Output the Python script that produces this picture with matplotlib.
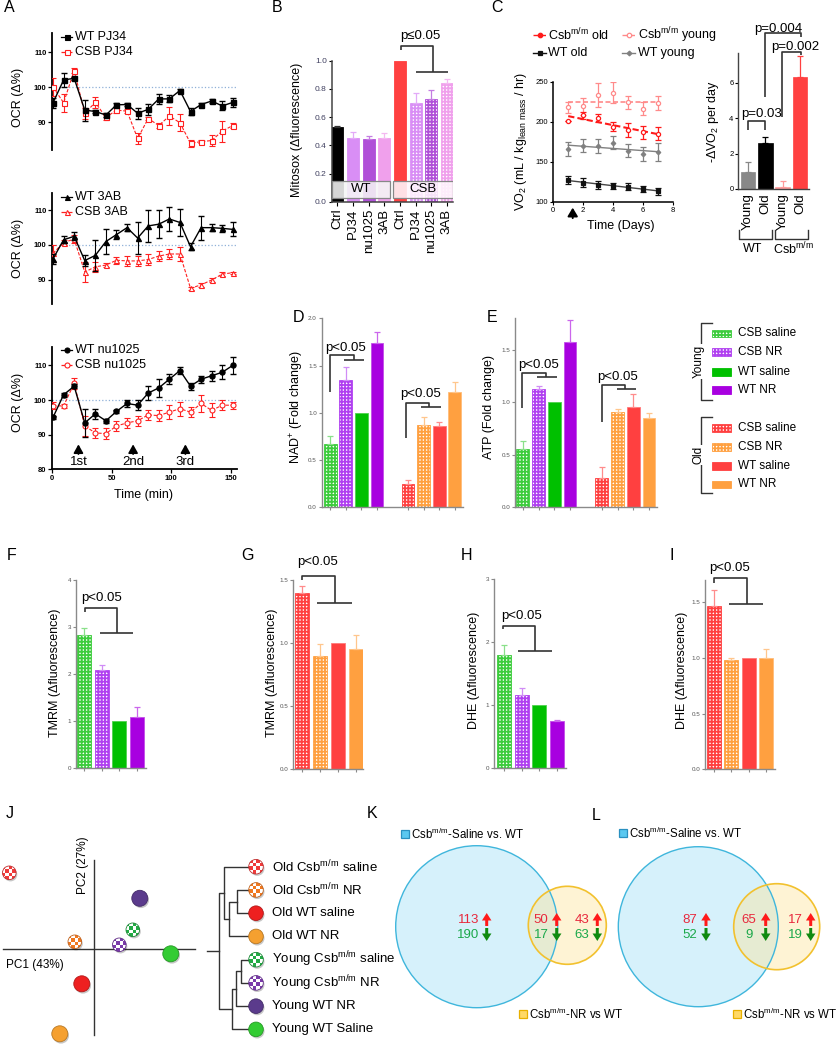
import numpy as np
import matplotlib
matplotlib.use('Agg')
import matplotlib.pyplot as plt
from matplotlib.patches import Circle, Rectangle, FancyArrow
from matplotlib.colors import to_rgb

plt.rcParams['font.family'] = ['Liberation Sans', 'DejaVu Sans']
plt.rcParams['mathtext.fontset'] = 'custom'
plt.rcParams['mathtext.rm'] = 'Liberation Sans'
plt.rcParams['mathtext.it'] = 'Liberation Sans:italic'
plt.rcParams['mathtext.bf'] = 'Liberation Sans:bold'
plt.rcParams['hatch.linewidth'] = 1.3
plt.rcParams['axes.unicode_minus'] = False

# ---------------- DATA ----------------
# Panel A (OCR, % of baseline)
t_min = [0.6, 9.5, 18.4, 27.3, 36.2, 45.1, 54.0, 62.9, 71.8, 80.7, 89.6, 98.5, 107.4, 116.3, 125.2, 134.1, 143.0, 151.9]
wt_pj34 = [95.5, 102, 102.5, 93.4, 93, 92, 94.9, 95, 92.5, 93.6, 96.6, 96.6, 99, 93, 95, 96, 94.6, 95.6]
wt_pj34_err = [1.5, 2, 0.5, 3, 0.5, 0.5, 0.5, 0.5, 1.5, 1.5, 1.5, 1, 0.5, 1, 0.5, 0.5, 1.3, 1.3]
csb_pj34 = [100, 95.5, 104.7, 92.5, 95.6, 91.3, 93.4, 93.1, 85.3, 91, 89, 91.7, 89.8, 83.9, 84.4, 84.7, 87.4, 89]
csb_pj34_err = [2.5, 2.5, 0.6, 1.5, 1.5, 0.8, 0.8, 0.5, 1.5, 0.5, 0.8, 2.5, 2.5, 1.0, 0.5, 1.5, 3.0, 0.8]
wt_3ab = [96, 101.5, 102.5, 95.5, 97, 101, 103, 105, 102, 105.5, 106, 107.5, 106.5, 99.5, 105, 105, 104.8, 104.5]
wt_3ab_err = [1.5, 1, 1.2, 1.5, 4.5, 3.5, 1.2, 1, 4.5, 4.5, 4, 3.5, 4, 1, 3.5, 1, 1, 2]
csb_3ab = [97.6, 100.7, 101.7, 92.2, 93.7, 94.2, 95.6, 95.4, 95.4, 95.8, 96.8, 97.4, 97.4, 87.5, 88.5, 89.9, 91.6, 92]
csb_3ab_err = [2.5, 0.8, 1.2, 3, 1.5, 0.5, 1, 1.5, 1.5, 1.5, 1.5, 1.5, 2, 0.5, 0.5, 0.5, 0.5, 0.3]
wt_nu = [95, 101.5, 104, 93.4, 96, 94, 96.7, 99, 98.5, 102, 103.5, 106, 108.5, 104, 106, 107, 108, 110]
wt_nu_err = [0.5, 0.5, 0.5, 4, 1.5, 0.5, 0.5, 1, 1.5, 2, 2.5, 1.5, 1, 1, 1, 1.5, 2, 2.5]
csb_nu = [98.3, 98.3, 104.8, 92.5, 90.5, 90.3, 92.5, 93.4, 94, 95.7, 95.5, 96.5, 97.5, 96.5, 99, 97, 98.5, 98.5]
csb_nu_err = [1, 0.5, 1.5, 3, 1.5, 1.5, 1.5, 1.5, 1.5, 1.5, 1.5, 2, 2, 1.5, 2.5, 2, 1.5, 1]
inject_t = [22, 68, 112]
inject_labels = ['1st', '2nd', '3rd']

# Panel B (Mitosox)
b_labels = ['Ctrl', 'PJ34', 'nu1025', '3AB', 'Ctrl', 'PJ34', 'nu1025', '3AB']
b_vals = [0.53, 0.45, 0.445, 0.455, 1.0, 0.70, 0.73, 0.84]
b_err = [0.01, 0.045, 0.02, 0.03, 0.0, 0.07, 0.06, 0.03]
b_colors = ['#000000', '#d98ef5', '#b050d8', '#f0a0ec', '#ff4040', '#d98ef5', '#b050d8', '#f0a0ec']
b_check = [False, False, False, False, False, True, True, True]

# Panel C (VO2)
days = [1, 2, 3, 4, 5, 6, 7]
csb_young = [218, 219, 233, 236, 224, 216, 223]
csb_young_err = [7, 10, 15, 13, 8, 8, 9]
csb_old = [201, 208, 205, 194, 190, 187, 185]
csb_old_err = [0, 4, 5, 6, 9, 8, 8]
wt_young = [166, 170, 170, 174, 164, 160, 162]
wt_young_err = [9, 8, 9, 8, 8, 9, 11]
wt_old = [127, 124, 121, 120, 119, 116, 113]
wt_old_err = [5, 6, 5, 4, 4, 4, 4]
dvo2_labels = ['Young', 'Old', 'Young', 'Old']
dvo2_vals = [0.95, 2.62, 0.12, 6.35]
dvo2_err = [0.6, 0.35, 0.35, 1.2]
dvo2_colors = ['#888888', '#000000', '#ff9a9a', '#ff4040']

# Panels D-I (young / old groups: CSB saline, CSB NR, WT saline, WT NR)
group_labels = ['CSB saline', 'CSB NR', 'WT saline', 'WT NR']
young_colors = ['#3ccc3c', '#b040f0', '#00c000', '#a800e0']
old_colors = ['#ff4040', '#ffa040', '#ff4040', '#ffa040']
check_pattern = [True, True, False, False]
nad_vals = [0.67, 1.35, 1.0, 1.74, 0.25, 0.87, 0.86, 1.22]
nad_err = [0.08, 0.13, 0.0, 0.11, 0.04, 0.09, 0.04, 0.11]
atp_vals = [0.56, 1.13, 1.0, 1.57, 0.28, 0.91, 0.96, 0.85]
atp_err = [0.07, 0.03, 0.0, 0.21, 0.10, 0.03, 0.12, 0.05]
tmrm_young = [2.83, 2.08, 1.0, 1.10]
tmrm_young_err = [0.15, 0.12, 0.0, 0.20]
tmrm_old = [1.40, 0.90, 1.0, 0.95]
tmrm_old_err = [0.05, 0.09, 0.0, 0.11]
dhe_young = [1.80, 1.17, 1.0, 0.75]
dhe_young_err = [0.15, 0.10, 0.0, 0.01]
dhe_old = [1.47, 0.98, 1.0, 1.0]
dhe_old_err = [0.14, 0.02, 0.0, 0.08]

# Panel J (PCA + dendrogram)
pca_names = ['Old Csb saline', 'Young WT NR', 'Young Csb saline', 'Old Csb NR',
             'Young Csb NR', 'Young WT saline', 'Old WT saline', 'Old WT NR']
pc1 = [-1.70, 0.91, 0.77, -0.39, 0.50, 1.53, -0.25, -0.69]
pc2 = [1.53, 1.02, 0.39, 0.15, 0.09, -0.09, -0.69, -1.69]
pca_colors = ['#f03a3a', '#5b3b8c', '#22aa44', '#f07820', '#7a3aaa', '#33cc33', '#ee2020', '#f5a030']
pca_check = [True, False, True, True, True, False, False, False]
leaf_labels = ['Old Csb$^{\\rm m/m}$ saline', 'Old Csb$^{\\rm m/m}$ NR', 'Old WT saline', 'Old WT NR',
               'Young Csb$^{\\rm m/m}$ saline', 'Young Csb$^{\\rm m/m}$ NR', 'Young WT NR', 'Young WT Saline']
leaf_colors = ['#f03a3a', '#f07820', '#ee2020', '#f5a030', '#22aa44', '#7a3aaa', '#5b3b8c', '#33cc33']
leaf_check = [True, True, False, False, True, True, False, False]
# merges: (child1, child2, height); children <8 are leaves, >=8 are earlier merges
merges = [(1, 2, 3.9), (8, 3, 6.4), (0, 9, 8.3), (4, 5, 2.5), (11, 6, 4.1), (12, 7, 5.6), (10, 13, 9.9)]

# Panels K, L (Venn counts: only saline, shared, only NR; up / down)
venn_K_up = [113, 50, 43]
venn_K_down = [190, 17, 63]
venn_L_up = [87, 65, 17]
venn_L_down = [52, 9, 19]

# ---------------- FIGURE ----------------
W, H = 836, 1050
fig = plt.figure(figsize=(W / 100, H / 100), dpi=100)


def add_ax(x0, y0, x1, y1):
    ax = fig.add_axes([x0 / W, 1 - y1 / H, (x1 - x0) / W, (y1 - y0) / H])
    ax.patch.set_alpha(0)
    return ax


ov = add_ax(0, 0, W, H)
ov.set_xlim(0, W)
ov.set_ylim(H, 0)
ov.axis('off')
ov.set_zorder(10)
ov.set_autoscale_on(False)


def lighten(c, f=0.45):
    r, g, b = to_rgb(c)
    return (r + (1 - r) * f, g + (1 - g) * f, b + (1 - b) * f)


def darken(c, f=0.7):
    r, g, b = to_rgb(c)
    return (r * f, g * f, b * f)


def to_ov(ax, x, y):
    dx, dy = ax.transData.transform((x, y))
    return dx, H - dy


def letter(x, y, s):
    ov.text(x, y, s, fontsize=11.5, ha='center', va='center')


def vlabel(x, y, s, fs=9):
    ov.text(x, y, s, fontsize=fs, ha='center', va='center', rotation=90)


def bracket(ax, xs, ys, color='#333333', lw=1.2):
    ax.plot(xs, ys, color=color, lw=lw, clip_on=False, solid_capstyle='butt')


def draw_bars(ax, pos, vals, errs, colors, checks, width):
    for p, v, e, c, chk in zip(pos, vals, errs, colors, checks):
        if chk:
            ax.bar(p, v, width, color='white', edgecolor=c, hatch='+++++', linewidth=0.6, zorder=2)
        else:
            ax.bar(p, v, width, color=c, edgecolor=lighten(c, 0.3), linewidth=0.6, zorder=2)
        if e > 0:
            ax.errorbar(p, v, yerr=[[0], [e]], fmt='none', ecolor=lighten(c, 0.4),
                        elinewidth=0.9, capsize=2.5, capthick=0.9, zorder=3)


def style_bar_ax(ax, yticks, fmt, tick_fs=4.5):
    for s in ['top', 'right']:
        ax.spines[s].set_visible(False)
    for s in ['left', 'bottom']:
        ax.spines[s].set_color('#8a8a8a')
        ax.spines[s].set_linewidth(1.0)
    ax.set_yticks(yticks)
    ax.set_yticklabels([fmt.format(v) for v in yticks])
    ax.tick_params(axis='both', colors='#8a8a8a', labelcolor='#555555', labelsize=tick_fs,
                   length=2.5, width=0.8, pad=1)


# ---------------- Panel A ----------------
def panel_A(box, ylim, wt, wte, csb, cse, mk, labels, leg_y, show_x):
    ax = add_ax(*box)
    ax.set_xlim(0, 155)
    ax.set_ylim(*ylim)
    ax.axhline(100, color='#8fb0d8', ls=':', lw=0.9, zorder=1)
    ax.errorbar(t_min, csb, yerr=cse, color='#ff2020', marker=mk, mfc='white', mec='#ff2020',
                ms=3.6, mew=0.8, ls=(0, (3, 1.5)), lw=0.8, capsize=2, elinewidth=0.8, zorder=3)
    ax.errorbar(t_min, wt, yerr=wte, color='black', marker=mk, mfc='black', ms=3.6,
                lw=1.0, capsize=2, elinewidth=0.8, zorder=4)
    ax.spines['top'].set_visible(False)
    ax.spines['right'].set_visible(False)
    ax.spines['left'].set_linewidth(1.3)
    yt = [90, 100, 110] if not show_x else [80, 90, 100, 110]
    ax.set_yticks(yt)
    ax.set_yticklabels([str(v) for v in yt], fontweight='bold')
    ax.tick_params(labelsize=5.5, length=3, width=0.9, pad=1)
    if show_x:
        ax.spines['bottom'].set_linewidth(1.3)
        ax.set_xticks([0, 50, 100, 150])
        ax.set_xticklabels(['0', '50', '100', '150'], fontweight='bold')
    else:
        ax.spines['bottom'].set_visible(False)
        ax.set_xticks([])
    for (lab, mfc, ls, col), yy in zip(labels, leg_y):
        ov.plot([61, 72], [yy, yy], color=col, ls=ls, lw=0.9)
        ov.plot([66.5], [yy], marker=mk, color=col, mfc=mfc, ms=3.6, mew=0.8, ls='none')
        ov.text(75, yy, lab, fontsize=9, va='center', ha='left')
    return ax


axA1 = panel_A((52.3, 33, 236.5, 150), (82, 115.43), wt_pj34, wt_pj34_err, csb_pj34, csb_pj34_err, 's',
               [('WT PJ34', 'black', '-', 'black'), ('CSB PJ34', 'white', '--', '#ff2020')], [37.3, 51.7], False)
axA2 = panel_A((52.3, 193, 236.5, 304), (82.97, 115.0), wt_3ab, wt_3ab_err, csb_3ab, csb_3ab_err, '^',
               [('WT 3AB', 'black', '-', 'black'), ('CSB 3AB', 'white', '--', '#ff2020')], [197.3, 211.7], False)
axA3 = panel_A((52.3, 347, 236.5, 469.3), (80, 115.3), wt_nu, wt_nu_err, csb_nu, csb_nu_err, 'o',
               [('WT nu1025', 'black', '-', 'black'), ('CSB nu1025', 'white', '--', '#ff2020')], [350, 365], True)
for tt, lab in zip(inject_t, inject_labels):
    axA3.annotate('', xy=(tt, 88.0), xytext=(tt, 83.6),
                  arrowprops=dict(arrowstyle='-|>,head_width=0.28,head_length=0.5', color='black', lw=1.3))
    axA3.text(tt, 82.0, lab, fontsize=9.5, ha='center', va='center')
ov.text(143, 495, 'Time (min)', fontsize=9, ha='center', va='center')
for yy in (97, 248, 402):
    vlabel(18.3, yy, 'OCR (Δ%)', 9)
letter(9.3, 8, 'A')

# ---------------- Panel B ----------------
axB = add_ax(331.7, 60.7, 453, 201.7)
axB.set_xlim(-0.37, 7.4)
axB.set_ylim(0, 1.0)
xb = np.arange(len(b_vals))
for p, v, e, c, chk in zip(xb, b_vals, b_err, b_colors, b_check):
    if chk:
        axB.bar(p, v, 0.77, color='white', edgecolor=c, hatch='+++++', linewidth=0.6, zorder=2)
    else:
        axB.bar(p, v, 0.77, color=c, edgecolor=c, linewidth=0.6, zorder=2)
    if e > 0:
        axB.errorbar(p, v, yerr=[[0], [e]], fmt='none', ecolor=lighten(c, 0.25) if c != '#000000' else '#333',
                     elinewidth=0.9, capsize=2.5, capthick=0.9, zorder=3)
axB.add_patch(Rectangle((-0.365, 0.026), 3.71, 0.121, fc=(0.96, 0.96, 0.96, 0.88), ec='#888', lw=0.9, zorder=4))
axB.add_patch(Rectangle((3.54, 0.026), 3.85, 0.121, fc=(1, 0.97, 0.99, 0.88), ec='#888', lw=0.9, zorder=4))
axB.text(1.5, 0.087, 'WT', fontsize=9.5, ha='center', va='center', zorder=5)
axB.text(5.45, 0.087, 'CSB', fontsize=9.5, ha='center', va='center', zorder=5)
for s in ['top', 'right']:
    axB.spines[s].set_visible(False)
for s in ['left', 'bottom']:
    axB.spines[s].set_color('#444')
    axB.spines[s].set_linewidth(1.1)
axB.set_yticks([0, 0.2, 0.4, 0.6, 0.8, 1.0])
axB.set_yticklabels(['0.0', '0.2', '0.4', '0.6', '0.8', '1.0'])
axB.set_xticks(xb)
axB.set_xticklabels(b_labels, rotation=90, fontsize=9.5)
axB.tick_params(axis='y', labelsize=6, labelcolor='#404060', length=2.5, width=0.8, pad=1)
axB.tick_params(axis='x', length=3, width=0.8, pad=2)
bracket(axB, [4.05, 4.05, 6.1, 6.1], [1.076, 1.104, 1.104, 0.92])
bracket(axB, [5.0, 7.1], [0.92, 0.92])
axB.text(5.28, 1.175, 'p≤0.05', fontsize=9.5, ha='center', va='center', clip_on=False)
vlabel(296.7, 130, 'Mitosox (Δfluorescence)', 9)
letter(276.7, 8, 'B')

# ---------------- Panel C (left) ----------------
axC = add_ax(553.3, 81.7, 672.7, 201.7)
axC.set_xlim(0, 8)
axC.set_ylim(100, 250)
series_C = [
    (csb_young, csb_young_err, '#ff8a8a', 'o', 'white', (0, (3, 1.5)), 1.2),
    (csb_old, csb_old_err, '#ff1a1a', 'o', 'white', (0, (3, 1.5)), 1.5),
    (wt_young, wt_young_err, '#808080', 'D', '#808080', '-', 1.0),
    (wt_old, wt_old_err, '#111111', 's', '#111111', '-', 1.0),
]
for vals, errs, col, mk, mfc, ls, lw in series_C:
    slope, icpt = np.polyfit(days, vals, 1)
    xx = np.array([days[0], days[-1]])
    axC.plot(xx, slope * xx + icpt, color=col if col != '#111111' else '#444', ls=ls, lw=lw, zorder=2)
    axC.errorbar(days, vals, yerr=errs, fmt=mk, color=col, mfc=mfc, mec=col, ms=3.0 if mk != 'D' else 2.3,
                 mew=0.9, capsize=2, elinewidth=0.9, zorder=3)
for s in ['top', 'right']:
    axC.spines[s].set_visible(False)
for s in ['left', 'bottom']:
    axC.spines[s].set_linewidth(1.1)
axC.set_xticks([0, 2, 4, 6, 8])
axC.set_yticks([100, 150, 200, 250])
axC.tick_params(labelsize=5.5, length=2.5, width=0.8, pad=1)
axC.annotate('', xy=(1.3, 96), xytext=(1.3, 76), annotation_clip=False,
             arrowprops=dict(arrowstyle='-|>,head_width=0.3,head_length=0.5', color='black', lw=1.4))
ov.text(621, 226, 'Time (Days)', fontsize=9, ha='center', va='center')
vlabel(520.7, 141, 'VO$_2$ (mL / kg$_{\\rm lean\\ mass}$ / hr)', 9)
leg_C = [((533, 546, 548), 35, '#ff1a1a', 'o', '#ff1a1a', '--', 'Csb$^{\\rm m/m}$ old'),
         ((622, 635, 638), 35, '#ff8a8a', 'o', 'white', '--', 'Csb$^{\\rm m/m}$ young'),
         ((533, 546, 548), 53.3, '#111111', 's', '#111111', '-', 'WT old'),
         ((622, 635, 638), 53.3, '#808080', 'D', '#808080', '-', 'WT young')]
for (x0, x1, tx), yy, col, mk, mfc, ls, lab in leg_C:
    ov.plot([x0, x1], [yy, yy], color=col, ls=ls, lw=1.0)
    ov.plot([(x0 + x1) / 2], [yy], marker=mk, color=col, mfc=mfc, mec=col, ms=3.2 if mk != 'D' else 2.4,
            mew=0.9, ls='none')
    ov.text(tx, yy, lab, fontsize=9, va='center', ha='left')
letter(496.7, 8, 'C')

# ---------------- Panel C (right) ----------------
axC2 = add_ax(738.3, 53.3, 809, 189)
axC2.set_xlim(-0.56, 3.52)
axC2.set_ylim(0, 7.68)
xc = np.arange(4)
for p, v, e, c in zip(xc, dvo2_vals, dvo2_err, dvo2_colors):
    axC2.bar(p, v, 0.86, color=c, edgecolor=c, lw=0.5, zorder=2)
    axC2.errorbar(p, v, yerr=[[0], [e]], fmt='none', ecolor=c,
                  elinewidth=0.9, capsize=2.5, capthick=0.9, zorder=3)
for s in ['top', 'right']:
    axC2.spines[s].set_visible(False)
for s in ['left', 'bottom']:
    axC2.spines[s].set_linewidth(1.0)
    axC2.spines[s].set_color('#444')
axC2.set_yticks([0, 2, 4, 6])
axC2.set_xticks(xc)
axC2.set_xticklabels(dvo2_labels, rotation=90, fontsize=9.5)
axC2.tick_params(axis='y', labelsize=5.5, length=2.5, width=0.8, pad=1)
axC2.tick_params(axis='x', length=0, pad=3)
bracket(axC2, [0, 0, 1, 1], [3.34, 3.87, 3.87, 3.34])
axC2.text(0.8, 4.22, 'p=0.03', fontsize=9.5, ha='center', va='center', clip_on=False)
bracket(axC2, [1, 1, 3.05, 3.05], [5.22, 8.81, 8.81, 8.62])
axC2.text(1.74, 9.07, 'p=0.004', fontsize=9.5, ha='center', va='center', clip_on=False)
bracket(axC2, [1.99, 1.99, 3.05, 3.05], [4.09, 7.74, 7.74, 7.58])
axC2.text(2.72, 8.04, 'p=0.002', fontsize=9.5, ha='center', va='center', clip_on=False)
vlabel(713, 121, '-ΔVO$_2$ per day', 9)
ov.plot([739, 739, 772, 772], [230, 239.3, 239.3, 230], color='#333', lw=1.0)
ov.plot([775, 775, 808, 808], [230, 239.3, 239.3, 230], color='#333', lw=1.0)
ov.text(753, 249.5, 'WT', fontsize=9, ha='center', va='center')
ov.text(793, 249.5, 'Csb$^{\\rm m/m}$', fontsize=9, ha='center', va='center')

# ---------------- Panels D, E ----------------
pos8 = [0, 1, 2, 3, 5, 6, 7, 8]
colors8 = young_colors + old_colors
checks8 = check_pattern + check_pattern

axD = add_ax(321.7, 318.3, 463, 507.3)
axD.set_xlim(-0.54, 8.52)
axD.set_ylim(0, 2.0)
draw_bars(axD, pos8, nad_vals, nad_err, colors8, checks8, 0.82)
style_bar_ax(axD, [0, 0.5, 1.0, 1.5, 2.0], '{:.1f}')
axD.set_xticks(pos8)
axD.set_xticklabels([])
bracket(axD, [0, 0, 1.5, 1.5], [1.223, 1.612, 1.612, 1.559])
bracket(axD, [0.86, 2.15], [1.559, 1.559])
axD.text(1.0, 1.69, 'p<0.05', fontsize=9.5, ha='center', va='center')
bracket(axD, [4.85, 4.85, 6.35, 6.35], [0.73, 1.107, 1.107, 1.065])
bracket(axD, [5.8, 7.1], [1.065, 1.065])
axD.text(5.8, 1.195, 'p<0.05', fontsize=9.5, ha='center', va='center')
vlabel(297, 407, 'NAD$^{+}$ (Fold change)', 9)
letter(298, 318, 'D')

axE = add_ax(515, 318.3, 656.7, 507.3)
axE.set_xlim(-0.49, 8.48)
axE.set_ylim(0, 1.80)
draw_bars(axE, pos8, atp_vals, atp_err, colors8, checks8, 0.8)
style_bar_ax(axE, [0, 0.5, 1.0, 1.5], '{:.1f}')
axE.set_xticks(pos8)
axE.set_xticklabels([])
bracket(axE, [-0.06, -0.06, 1.47, 1.47], [0.944, 1.283, 1.283, 1.245])
bracket(axE, [0.89, 2.15], [1.245, 1.245])
axE.text(1.0, 1.355, 'p<0.05', fontsize=9.5, ha='center', va='center')
bracket(axE, [5.0, 5.0, 6.47, 6.47], [0.816, 1.166, 1.166, 1.128])
bracket(axE, [5.95, 7.2], [1.128, 1.128])
axE.text(6.0, 1.242, 'p<0.05', fontsize=9.5, ha='center', va='center')
vlabel(489.3, 407, 'ATP (Fold change)', 9)
letter(491.7, 318, 'E')

# legend for D-I
leg_rows = [(young_colors, [333.3, 352, 371.7, 390], 'Young', 322.7, 400, 361.7),
            (old_colors, [427.7, 446.7, 465.7, 484.3], 'Old', 416.7, 493.3, 455)]
for cols, ys, grp, ytop, ybot, ymid in leg_rows:
    ov.plot([711.7, 700.7, 700.7, 711.7], [ytop, ytop, ybot, ybot], color='#333', lw=1.0)
    ov.text(699, ymid, grp, fontsize=8.5, rotation=90, ha='center', va='center',
            bbox=dict(fc='white', ec='none', pad=0.5))
    for c, chk, lab, yy in zip(cols, check_pattern, group_labels, ys):
        if chk:
            ov.add_patch(Rectangle((712.3, yy - 3.8), 18.4, 7.6, fc='white', ec=c, hatch='+++++', lw=0.6))
        else:
            ov.add_patch(Rectangle((712.3, yy - 3.8), 18.4, 7.6, fc=c, ec=c, lw=0.6))
        ov.text(738, yy, lab, fontsize=8.5, va='center', ha='left')

# ---------------- Panels F-I ----------------
pos4 = [0, 1, 2, 3]


def small_panel(box, xlim, ylim, vals, errs, cols, yt, fmt, width):
    ax = add_ax(*box)
    ax.set_xlim(*xlim)
    ax.set_ylim(*ylim)
    draw_bars(ax, pos4, vals, errs, cols, check_pattern, width)
    style_bar_ax(ax, yt, fmt)
    ax.set_xticks(pos4)
    ax.set_xticklabels([])
    return ax


axF = small_panel((76, 580, 146, 768.3), (-0.46, 3.54), (0, 4), tmrm_young, tmrm_young_err, young_colors,
                  [0, 1, 2, 3, 4], '{:.0f}', 0.8)
bracket(axF, [0.06, 0.06, 1.87, 1.87], [3.32, 3.40, 3.40, 2.866])
bracket(axF, [0.91, 2.82], [2.866, 2.866])
axF.text(1.0, 3.62, 'p<0.05', fontsize=9.5, ha='center', va='center', clip_on=False)
vlabel(55, 673, 'TMRM (Δfluorescence)', 9)
letter(11.7, 555, 'F')

axG = small_panel((293.3, 580, 363.3, 769), (-0.47, 3.42), (0, 1.5), tmrm_old, tmrm_old_err, old_colors,
                  [0, 0.5, 1.0, 1.5], '{:.1f}', 0.78)
bracket(axG, [0.03, 0.03, 1.85, 1.85], [1.5, 1.534, 1.534, 1.32])
bracket(axG, [0.87, 2.78], [1.32, 1.32])
axG.text(0.9, 1.645, 'p<0.05', fontsize=9.5, ha='center', va='center', clip_on=False)
vlabel(271.7, 673, 'TMRM (Δfluorescence)', 9)
letter(248, 555, 'G')

axH = small_panel((494.3, 579.3, 565.7, 768.3), (-0.55, 3.51), (0, 3), dhe_young, dhe_young_err, young_colors,
                  [0, 1, 2, 3], '{:.0f}', 0.8)
bracket(axH, [-0.07, -0.07, 1.76, 1.76], [2.206, 2.263, 2.263, 1.862])
bracket(axH, [0.81, 2.71], [1.862, 1.862])
axH.text(1.0, 2.41, 'p<0.05', fontsize=9.5, ha='center', va='center', clip_on=False)
vlabel(474, 670, 'DHE (Δfluorescence)', 9)
letter(466.7, 555, 'H')

axI = small_panel((705, 580, 775, 769.3), (-0.51, 3.49), (0, 1.70), dhe_old, dhe_old_err, old_colors,
                  [0, 0.5, 1.0, 1.5], '{:.1f}', 0.8)
bracket(axI, [0, 0, 1.87, 1.87], [1.677, 1.716, 1.716, 1.482])
bracket(axI, [0.87, 2.78], [1.482, 1.482])
axI.text(0.9, 1.808, 'p<0.05', fontsize=9.5, ha='center', va='center', clip_on=False)
vlabel(681.7, 670, 'DHE (Δfluorescence)', 9)
letter(671.7, 555, 'I')


# ---------------- Panel J ----------------
def dot(x, y, r, color, chk):
    ov.add_patch(Circle((x + 1.2, y + 1.8), r, fc='black', ec='none', alpha=0.22, zorder=2))
    if chk:
        c = np.array(to_rgb(color))
        img = np.ones((4, 4, 3))
        for i in range(4):
            for j in range(4):
                if (i + j) % 2 == 0:
                    img[i, j] = c
        im = ov.imshow(img, extent=(x - r, x + r, y + r, y - r), interpolation='nearest',
                       aspect='auto', zorder=3)
        im.set_clip_path(Circle((x, y), r, transform=ov.transData))
        ov.add_patch(Circle((x, y), r, fill=False, ec=darken(color, 0.8), lw=0.6, zorder=4))
    else:
        ov.add_patch(Circle((x, y), r, fc=color, ec=darken(color, 0.75), lw=0.6, zorder=3))


axPC = add_ax(0, 850, 200, 1045)
axPC.set_xlim(-1.886, 2.114)
axPC.set_ylim(-1.914, 1.986)
axPC.axis('off')
axPC.plot([-1.82, 2.01], [0, 0], color='#333', lw=1.0)
axPC.plot([0, 0], [-1.71, 1.79], color='#333', lw=1.0)
for x, y, c, chk in zip(pc1, pc2, pca_colors, pca_check):
    px, py = to_ov(axPC, x, y)
    dot(px, py, 6.8 if chk else 8, c, chk)
ov.text(35, 965, 'PC1 (43%)', fontsize=8.5, ha='center', va='center')
vlabel(83.3, 865, 'PC2 (27%)', 8.5)

axD2 = add_ax(200, 855, 248, 1041)
axD2.set_xlim(16.55, 0)
axD2.set_ylim(7.5, -0.504)
axD2.axis('off')
node_y = {i: float(i) for i in range(8)}
node_h = {i: 0.0 for i in range(8)}
for k, (a, b, h) in enumerate(merges):
    nid = 8 + k
    axD2.plot([node_h[a], h, h, node_h[b]], [node_y[a], node_y[a], node_y[b], node_y[b]],
              color='#333', lw=1.0, clip_on=False)
    node_y[nid] = (node_y[a] + node_y[b]) / 2
    node_h[nid] = h
root = 8 + len(merges) - 1
axD2.plot([node_h[root], 14.0], [node_y[root], node_y[root]], color='#333', lw=1.0, clip_on=False)
for i, (lab, c, chk) in enumerate(zip(leaf_labels, leaf_colors, leaf_check)):
    px, py = to_ov(axD2, 0, i)
    dot(px + 8, py, 7.3, c, chk)
    ov.text(px + 23.7, py, lab, fontsize=9.5, ha='left', va='center')
letter(10, 813, 'J')


# ---------------- Panels K, L ----------------
def varrow(x, yc, up, color):
    if up:
        ov.add_patch(FancyArrow(x, yc + 6.5, 0, -13, width=3.0, head_width=9.5, head_length=7.5,
                                length_includes_head=True, color=color, lw=0, zorder=6))
    else:
        ov.add_patch(FancyArrow(x, yc - 6.5, 0, 13, width=3.0, head_width=9.5, head_length=7.5,
                                length_includes_head=True, color=color, lw=0, zorder=6))


def venn(cx1, cy1, r1, cx2, cy2, r2, ups, downs, num_x, arr_x, leg1, leg2):
    ov.add_patch(Circle((cx1, cy1), r1, fc='#d6f1fb', ec='none', zorder=1))
    ov.add_patch(Circle((cx2, cy2), r2, fc='#fde39a', ec='none', alpha=0.42, zorder=2))
    ov.add_patch(Circle((cx1, cy1), r1, fill=False, ec='#3fb6dc', lw=1.0, zorder=3))
    ov.add_patch(Circle((cx2, cy2), r2, fill=False, ec='#f2c12e', lw=1.2, zorder=3))
    for u, d, nx, ax_ in zip(ups, downs, num_x, arr_x):
        ov.text(nx, 920, str(u), fontsize=9.5, color='#e8283c', ha='center', va='center', zorder=6)
        ov.text(nx, 935, str(d), fontsize=9.5, color='#1aa84a', ha='center', va='center', zorder=6)
        varrow(ax_, 919.5, True, '#ff1a1a')
        varrow(ax_, 934.5, False, '#108a10')
    (lx, ly), (mx, my) = leg1, leg2
    ov.add_patch(Rectangle((lx - 4, ly - 4), 8, 8, fc='#5ac8f0', ec='#2a90c0', lw=0.9, zorder=6))
    ov.text(lx + 6, ly, 'Csb$^{\\rm m/m}$-Saline vs. WT', fontsize=8.3, ha='left', va='center')
    ov.add_patch(Rectangle((mx - 4, my - 4), 8, 8, fc='#ffd966', ec='#e8b000', lw=0.9, zorder=6))
    ov.text(mx + 6, my, 'Csb$^{\\rm m/m}$-NR vs WT', fontsize=8.3, ha='left', va='center')


venn(476.7, 926.7, 81, 567.3, 925.3, 39, venn_K_up, venn_K_down,
     [468.3, 541, 581.7], [486.7, 556.7, 597.3], (405, 834), (522.7, 1014.3))
venn(698.3, 926.7, 80, 776.7, 926.7, 43, venn_L_up, venn_L_down,
     [690, 749, 795], [706, 765.7, 810.7], (623.3, 833.3), (737.3, 1014.3))
letter(372, 813, 'K')
letter(596, 815, 'L')

ov.set_xlim(0, W)
ov.set_ylim(H, 0)
fig.savefig('out.png', dpi=100)
